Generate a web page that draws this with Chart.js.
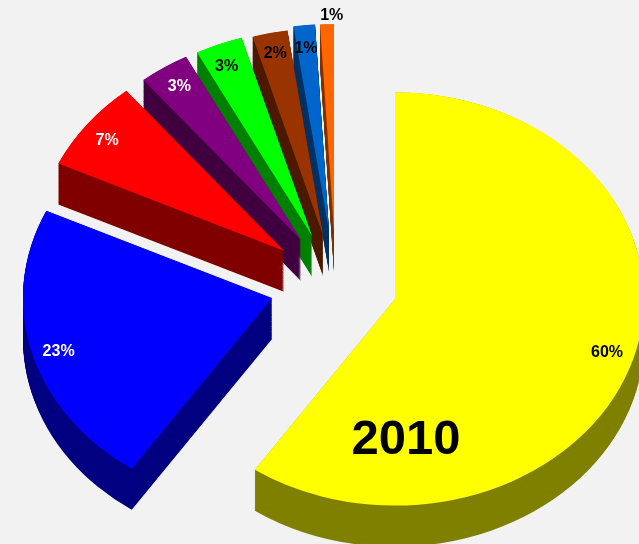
<!DOCTYPE html>
<html>
<head>
<meta charset="utf-8">
<style>
  html, body { margin: 0; padding: 0; background: #f2f2f2; }
  #wrap { position: relative; width: 639px; height: 544px; overflow: hidden; }
</style>
<script src="https://cdn.jsdelivr.net/npm/chart.js@4"></script>
</head>
<body>
<div id="wrap"><canvas id="chart"></canvas></div>
<script>
// ── Data ───────────────────────────────────────────────────────
const chartTitle = '2010';
const categories = ['A', 'B', 'C', 'D', 'E', 'F', 'G', 'H'];
const shares     = [60, 22.6, 7.2, 3.3, 3.1, 2.3, 1.4, 0.9];

// ── Style ──────────────────────────────────────────────────────
const topColors   = ['#ffff00', '#0000ff', '#ff0000', '#800080', '#00ff00', '#993300', '#0066cc', '#ff6600'];
const wallColors  = ['#808000', '#000080', '#800000', '#400040', '#008000', '#4d1a00', '#003366', '#803300'];
const labelColors = ['#000', '#fff', '#fff', '#fff', '#000', '#000', '#000', '#000'];
const explode     = [62, 66, 65, 63, 63, 60, 64, 64];
const labelRadius = [0.887, 0.897, 0.9, 0.895, 0.884, 0.88, 0.888, 1.044];
const labelNudge  = [[1, 0], [2, 4], [0, 4], [1, 1], [-3, 0], [-1, -4], [-1, 0], [5, 0]];

const RADIUS  = 249;
const SQUASH  = 0.83;
const DEPTH   = 41;   // wall height on screen

// ── Fake 3D: squash the pie and extrude it ─────────────────────
const pie3d = {
  id: 'pie3d',
  afterDatasetUpdate(chart) {
    for (const arc of chart.getDatasetMeta(0).data) {
      const i   = arc.$context.dataIndex;
      const mid = (arc.startAngle + arc.endAngle) / 2;
      arc.x = Math.round(arc.x + Math.cos(mid) * explode[i]);
      arc.y = Math.round(arc.y + Math.sin(mid) * explode[i]);
    }
  },
  beforeDatasetDraw(chart) {
    const { ctx, chartArea } = chart;
    const cy = (chartArea.top + chartArea.bottom) / 2;
    ctx.save();
    ctx.translate(0, cy);
    ctx.scale(1, SQUASH);
    ctx.translate(0, -cy);

    // back to front, the big slices land on top
    const arcs = chart.getDatasetMeta(0).data;
    for (let i = arcs.length - 1; i >= 0; i--) {
      const a = arcs[i];
      ctx.fillStyle = wallColors[i];
      for (let d = DEPTH / SQUASH; d > 0; d -= 1) {
        ctx.beginPath();
        ctx.moveTo(a.x, a.y + d);
        ctx.arc(a.x, a.y + d, a.outerRadius, a.startAngle, a.endAngle);
        ctx.closePath();
        ctx.fill();
      }
    }
  },
  afterDatasetDraw(chart) {
    chart.ctx.restore();
  },
  afterDraw(chart) {
    const { ctx, chartArea } = chart;
    const cy = (chartArea.top + chartArea.bottom) / 2;
    ctx.save();
    ctx.textAlign = 'center';
    ctx.textBaseline = 'middle';
    ctx.font = 'bold 16px "Liberation Sans", Arial, sans-serif';
    chart.getDatasetMeta(0).data.forEach((a, i) => {
      const mid = (a.startAngle + a.endAngle) / 2;
      const r   = a.outerRadius * labelRadius[i];
      const x   = a.x + Math.cos(mid) * r + labelNudge[i][0];
      const y   = cy + (a.y + Math.sin(mid) * r - cy) * SQUASH + labelNudge[i][1];
      ctx.fillStyle = labelColors[i];
      ctx.fillText(shares[i].toFixed(0) + '%', x, y);
    });
    ctx.fillStyle = '#000';
    ctx.font = 'bold 49px "Liberation Sans", Arial, sans-serif';
    ctx.fillText(chartTitle, 406, 440);
    ctx.restore();
  },
};

// ── Chart ──────────────────────────────────────────────────────
new Chart(document.getElementById('chart'), {
  type: 'pie',
  data: {
    labels: categories,
    datasets: [{
      data: shares,
      backgroundColor: topColors,
      borderWidth: 0,
      radius: RADIUS,
      clip: false,
    }],
  },
  options: {
    responsive: true,
    maintainAspectRatio: false,
    animation: false,
    events: [],
    layout: { padding: { left: 32, top: 24 } },
    plugins: { legend: { display: false }, tooltip: { enabled: false } },
  },
  plugins: [pie3d],
});
</script>
</body>
</html>
